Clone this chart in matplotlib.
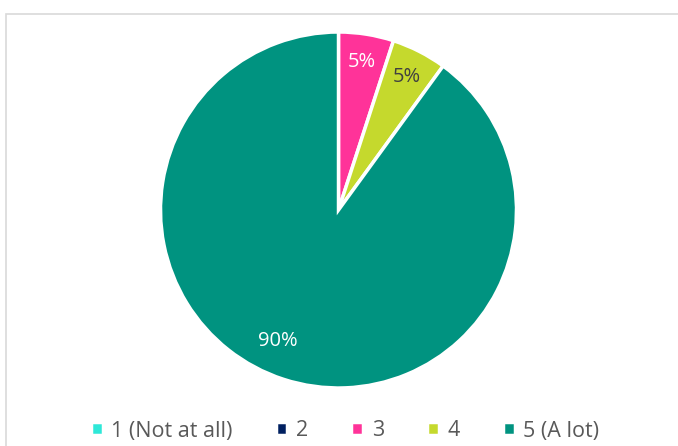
import numpy as np
import matplotlib.pyplot as plt
from matplotlib.patches import Rectangle

labels = ["1 (Not at all)", "2", "3", "4", "5 (A lot)"]
values = [0, 0, 5, 5, 90]
colors = ["#2EE8D8", "#002060", "#FF3399", "#C5D92D", "#009380"]
pct_colors = ["white", "white", "white", "#404040", "white"]

plt.rcParams["font.family"] = ["Open Sans", "DejaVu Sans"]

fig = plt.figure(figsize=(6.78, 4.46), dpi=100)
# chart frame
fig.patches.append(Rectangle((6 / 678, -0.1), 1.2, (446 - 14) / 446 + 0.1,
                             transform=fig.transFigure, fill=False,
                             edgecolor="#D9D9D9", linewidth=1.2))

r = 178
cx, cy = 338.5, 446 - 210
ax = fig.add_axes([(cx - r) / 678, (cy - r) / 446, 2 * r / 678, 2 * r / 446])
wedges, _ = ax.pie(values, colors=colors, startangle=90, counterclock=False,
                   radius=1.0, wedgeprops=dict(edgecolor="white", linewidth=2.5))
ax.set_xlim(-1, 1)
ax.set_ylim(-1, 1)
ax.set_aspect("equal")

total = sum(values)
ang = 90.0
for v, c in zip(values, pct_colors):
    if v == 0:
        continue
    span = 360 * v / total
    mid = ang - span / 2
    if v > 50:
        mid -= 7  # Excel best-fit nudges the big label a bit
    mid = np.deg2rad(mid)
    d = 0.84 if v < 50 else 0.81
    ax.text(d * np.cos(mid), d * np.sin(mid), f"{v}%", ha="center", va="center",
            fontsize=14.5, color=c)
    ang -= span

fig.legend(wedges, labels, loc="center", bbox_to_anchor=(345 / 678, 1 - 431 / 446),
           ncol=5, frameon=False, fontsize=15.5, handlelength=0.55, handleheight=0.55,
           handletextpad=0.4, columnspacing=2.0, labelcolor="#595959")

fig.savefig("out.png", dpi=100)
